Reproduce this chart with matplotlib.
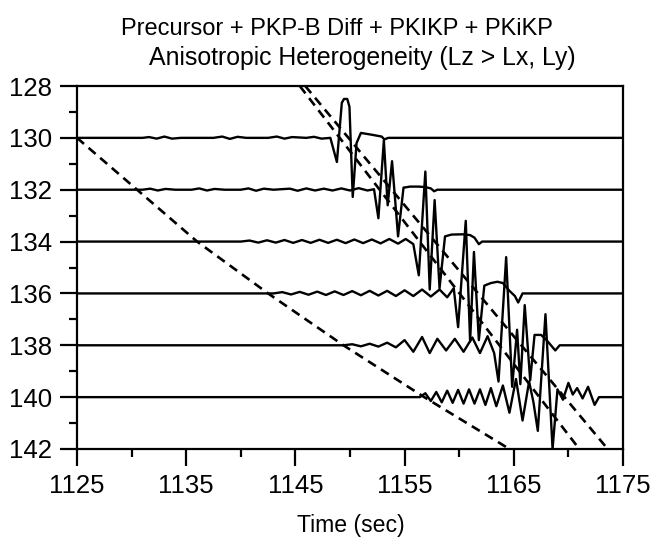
import matplotlib
matplotlib.use("Agg")
import matplotlib.pyplot as plt
from matplotlib.ticker import FixedLocator

# ---- data ----
distances = [130, 132, 134, 136, 138, 140]

# trace samples: time (s) and amplitude (deg, positive = upward)
t130 = [1125, 1131.0, 1131.6, 1132.3, 1133.0, 1133.7, 1134.5, 1136.0, 1137.5, 1138.3, 1139.0, 1139.7,
        1140.5, 1142.5, 1143.3, 1144.0, 1144.7, 1146.0, 1146.7, 1147.4, 1148.2, 1148.8, 1149.25, 1149.45,
        1149.75, 1149.95, 1150.25, 1150.6, 1151.0, 1152.0, 1152.9, 1153.15, 1153.5, 1175]
a130 = [0, 0, 0.03, -0.03, 0.05, -0.03, 0, 0, 0, 0.05, -0.04, 0.04,
        0, 0, 0.05, -0.03, 0.03, 0, 0.04, -0.03, 0, -0.93, 1.35, 1.5,
        1.5, 1.2, -2.28, -0.2, 0.19, 0.12, 0.05, -0.06, 0, 0]

t132 = [1125, 1131.0, 1131.7, 1132.4, 1133.1, 1134.0, 1135.5, 1136.2, 1136.9, 1137.6, 1138.5, 1140.0,
        1140.7, 1141.4, 1142.1, 1143.0, 1144.5, 1145.2, 1146.0, 1146.8, 1147.6, 1148.4, 1149.2, 1150.0,
        1150.8, 1151.6, 1152.2, 1152.6, 1153.1, 1153.45, 1153.85, 1154.4, 1154.9, 1155.5, 1156.3, 1156.9,
        1157.4, 1157.7, 1158.0, 1175]
a132 = [0, 0, 0.04, -0.03, 0.03, 0, 0, 0.05, -0.03, 0.03, 0, 0,
        0.05, -0.04, 0.04, 0, 0.04, -0.04, 0.05, -0.03, 0.04, -0.03, 0.05, -0.03,
        0.06, -0.03, 0.02, -1.1, 1.9, -0.6, 1.1, -1.8, 0.08, 0.12, 0.12, 0.1,
        0.05, -0.06, 0, 0]

t134 = [1125, 1140.0, 1140.8, 1141.6, 1142.4, 1143.2, 1144.0, 1144.8, 1145.6, 1146.4, 1147.2, 1148.0,
        1148.8, 1149.6, 1150.4, 1151.2, 1152.0, 1152.8, 1153.6, 1154.4, 1155.1, 1155.8, 1156.3, 1156.9,
        1157.3, 1157.75, 1158.2, 1158.7, 1159.3, 1160.3, 1161.0, 1161.4, 1161.8, 1162.1, 1175]
a134 = [0, 0, 0.04, -0.04, 0.05, -0.04, 0.06, -0.05, 0.06, -0.05, 0.07, -0.05,
        0.07, -0.06, 0.08, -0.06, 0.08, -0.07, 0.1, -0.08, 0.1, -0.1, -1.3, 2.7,
        -1.85, 1.6, -1.8, 0.2, 0.27, 0.28, 0.25, 0.15, -0.1, 0, 0]

t136 = [1125, 1143.0, 1143.8, 1144.6, 1145.4, 1146.2, 1147.0, 1147.8, 1148.6, 1149.4, 1150.2, 1151.0,
        1151.8, 1152.6, 1153.4, 1154.2, 1155.0, 1155.8, 1156.6, 1157.4, 1158.2, 1158.9, 1159.5, 1159.9,
        1160.6, 1161.0, 1161.35, 1161.8, 1162.3, 1162.9, 1163.5, 1164.0, 1164.6, 1165.1, 1165.4, 1165.8,
        1175]
a136 = [0, 0, 0.05, -0.04, 0.06, -0.05, 0.07, -0.06, 0.08, -0.06, 0.09, -0.07,
        0.1, -0.08, 0.1, -0.1, 0.12, -0.1, 0.15, -0.12, 0.15, -0.15, 0.2, -1.3,
        2.8, -1.85, 1.6, -1.8, 0.3, 0.4, 0.45, 0.4, 0.1, -0.1, -0.35, 0,
        0]

t138 = [1125, 1149.4, 1150.2, 1151.0, 1151.8, 1152.6, 1153.4, 1154.2, 1155.0, 1155.8, 1156.6, 1157.3,
        1158.0, 1158.8, 1159.6, 1160.4, 1161.2, 1161.9, 1162.6, 1163.2, 1163.6, 1164.3, 1164.85, 1165.3,
        1165.6, 1166.0, 1166.5, 1166.9, 1167.5, 1168.0, 1168.5, 1168.8, 1169.2, 1175]
a138 = [0, 0, 0.04, -0.04, 0.06, -0.05, 0.1, -0.08, 0.2, -0.25, 0.32, -0.3,
        0.25, -0.2, 0.25, -0.25, 0.3, -0.3, 0.35, -0.3, -1.4, 3.4, -1.6, 0.6,
        -1.5, 1.55, -1.35, 0.4, 0.4, 0.2, -0.05, -0.2, 0, 0]

t140 = [1125, 1156.4, 1156.9, 1157.4, 1157.9, 1158.4, 1158.9, 1159.4, 1159.9, 1160.4, 1160.9, 1161.4,
        1161.9, 1162.4, 1162.9, 1163.4, 1164.0, 1164.6, 1165.2, 1165.8, 1166.4, 1166.8, 1167.2, 1167.9,
        1168.55, 1169.0, 1169.5, 1170.0, 1170.4, 1170.8, 1171.3, 1171.8, 1172.4, 1172.8, 1175]
a140 = [0, 0, 0.15, -0.15, 0.2, -0.2, 0.25, -0.22, 0.28, -0.25, 0.3, -0.25,
        0.3, -0.3, 0.35, -0.35, 0.45, -0.6, 0.7, -0.9, 0.6, -0.2, -1.3, 3.2,
        -2.0, 0.3, -0.1, 0.55, 0.1, 0.35, -0.05, 0.4, -0.3, 0, 0]

traces_t = [t130, t132, t134, t136, t138, t140]
traces_a = [a130, a132, a134, a136, a138, a140]

# travel-time curves (dashed)
pre_dist = [130, 132, 134, 136, 138, 140, 142]
pre_time = [1125, 1130.5, 1136.0, 1142.5, 1149.4, 1156.8, 1164.6]
pkikp_dist = [128, 142]
pkikp_time = [1145.4, 1171.0]
pkikp2_dist = [128, 142]
pkikp2_time = [1145.9, 1173.6]

x_major = [1125, 1135, 1145, 1155, 1165, 1175]
x_minor = [1130, 1140, 1150, 1160, 1170]
y_major = [128, 130, 132, 134, 136, 138, 140, 142]
y_minor = [129, 131, 133, 135, 137, 139, 141]

title1 = "Precursor + PKP-B Diff + PKIKP + PKiKP"
title2 = "Anisotropic Heterogeneity (Lz > Lx, Ly)"
xlabel = "Time (sec)"

# ---- plot ----
plt.rcParams['font.family'] = ['Liberation Sans', 'DejaVu Sans']
fig = plt.figure(figsize=(6.52, 5.40), dpi=100)
ax = fig.add_axes([77 / 652, 1 - 449 / 540, (623 - 77) / 652, (449 - 86) / 540])

for d, tt, aa in zip(distances, traces_t, traces_a):
    ax.plot(tt, [d - v for v in aa], color='black', lw=1.7, solid_joinstyle='round')

for tt, dd in [(pre_time, pre_dist), (pkikp_time, pkikp_dist), (pkikp2_time, pkikp2_dist)]:
    ax.plot(tt, dd, color='black', lw=1.9, linestyle=(0, (3.5, 2.3)))

ax.set_xlim(1125, 1175)
ax.set_ylim(142, 128)
ax.xaxis.set_major_locator(FixedLocator(x_major))
ax.xaxis.set_minor_locator(FixedLocator(x_minor))
ax.yaxis.set_major_locator(FixedLocator(y_major))
ax.yaxis.set_minor_locator(FixedLocator(y_minor))
ax.tick_params(which='major', length=12, width=1.6, labelsize=18.5, direction='out', pad=6)
ax.tick_params(which='minor', length=6, width=1.6, direction='out')
for s in ax.spines.values():
    s.set_linewidth(1.6)

fig.text(351 / 652, 1 - 532 / 540, xlabel, ha='center', va='baseline', fontsize=16.6)
fig.text(337 / 652, 1 - 35 / 540, title1, ha='center', va='baseline', fontsize=17)
fig.text(362 / 652, 1 - 65 / 540, title2, ha='center', va='baseline', fontsize=17.9)

fig.savefig("out.png", dpi=100)
